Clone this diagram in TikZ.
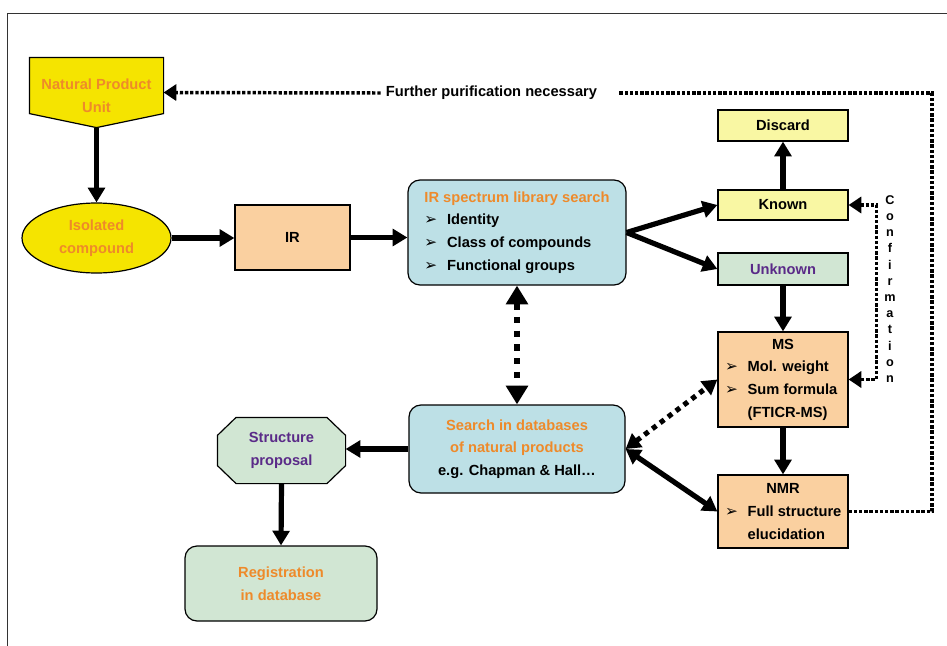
\documentclass[tikz,border=0pt]{standalone}
\usepackage{fontspec}
\setmainfont{Liberation Sans}
\newfontfamily\dingfont{DejaVu Sans}
\usepackage{tikz}
\usetikzlibrary{
    shapes.geometric,
    arrows.meta,
    positioning,
    backgrounds
}
\definecolor{npyellow}{HTML}{F5E400}
\definecolor{paleyellow}{HTML}{F9F7A3}
\definecolor{peach}{HTML}{FAD0A0}
\definecolor{paleblue}{HTML}{BDE0E6}
\definecolor{palegreen}{HTML}{D1E6D3}
\definecolor{orangetext}{HTML}{EE8A2A}
\definecolor{purpletext}{HTML}{5A2A88}

% bullet lines
\newcommand{\bul}{\makebox[17pt][l]{\dingfont\fontsize{11.5}{11}\selectfont ➢}}
\newcommand{\bline}[1]{\makebox[87pt][l]{\bul#1}}
\newcommand{\iline}[1]{\makebox[87pt][l]{\hspace{17pt}#1}}

\tikzset{
    % Base box style
    box/.style={
        rectangle,
        draw=black,
        line width=0.9pt,
        fill=#1,
        inner sep=0pt,
        align=center,
        font=\bfseries\fontsize{11}{17}\selectfont
    },
    % Rounded box style
    roundbox/.style={
        box=#1,
        rounded corners=9pt
    },
    % Outline drawn behind a plain node
    outline/.style={
        draw=black,
        line width=0.9pt,
        fill=#1
    },
    % Arrow styles
    flow/.style={
        -{Triangle[length=11pt, width=12.5pt]},
        line width=3.9pt
    },
    twoflow/.style={
        {Triangle[length=11pt, width=12.5pt]}-{Triangle[length=11pt, width=12.5pt]},
        line width=3.9pt
    },
    bigdots/.style={
        {Triangle[length=14pt, width=16pt]}-{Triangle[length=14pt, width=16pt]},
        line width=4.8pt,
        dash pattern=on 4.8pt off 5.5pt
    },
    middots/.style={
        {Triangle[length=11pt, width=12.5pt]}-{Triangle[length=11pt, width=12.5pt]},
        line width=3.8pt,
        dash pattern=on 3.8pt off 3.6pt
    },
    thindots/.style={
        line width=2.6pt,
        dash pattern=on 2.5pt off 1.4pt
    },
    thintip/.style={
        -{Triangle[length=9.5pt, width=12pt]}
    },
    thintwo/.style={
        {Triangle[length=9.5pt, width=12pt]}-{Triangle[length=9.5pt, width=12pt]}
    }
}

\begin{document}
\begin{tikzpicture}[x=0.75pt, y=-0.75pt]
        \useasboundingbox (0,0) rectangle (947,646);

        % Frame
        \draw[black!80, line width=0.6pt] (7,646) -- (7,13) -- (947,13);

        % Start
        \node[box=none, draw=none, fill=none, minimum width=99.75pt, minimum height=51.75pt, text=orangetext] (npu) at (96.5,92.5) {\rule{0pt}{12.5pt}Natural Product\\Unit};
        \node[box=npyellow, ellipse, minimum width=111.75pt, minimum height=52.5pt, text=orangetext] (iso) at (96.5,238) {Isolated\\compound};

        % IR branch
        \node[box=peach, minimum width=86.25pt, minimum height=48.75pt] (ir) at (292.5,237.5) {IR};
        \node[roundbox=paleblue, minimum width=163.5pt, minimum height=78.75pt, align=left] (irs) at (517,232.5) {\textcolor{orangetext}{IR spectrum library search}\\\bul Identity\\\bul Class of compounds\\\bul Functional groups};

        \node[box=paleyellow, minimum width=97.5pt, minimum height=23.25pt] (discard) at (783,125.5) {Discard};
        \node[box=paleyellow, minimum width=97.5pt, minimum height=22.5pt] (known) at (783,205) {Known};
        \node[box=palegreen, minimum width=97.5pt, minimum height=24pt, text=purpletext] (unknown) at (783,269) {Unknown};

        \node[box=peach, minimum width=97.5pt, minimum height=71.25pt] (ms) at (783,379.5) {MS\\\bline{Mol. weight}\\\bline{Sum formula}\\\iline{(FTICR-MS)}};
        \node[box=peach, minimum width=97.5pt, minimum height=54.75pt] (nmr) at (783,511.5) {NMR\\\bline{Full structure}\\\iline{elucidation}};

        % Database branch
        \node[roundbox=paleblue, minimum width=162pt, minimum height=66pt] (db) at (517,449) {\textcolor{orangetext}{Search in databases}\\\textcolor{orangetext}{of natural products}\\e.g. Chapman \& Hall…};
        \node[box=none, draw=none, fill=none, minimum width=95.25pt, minimum height=48.75pt, text=purpletext] (sp) at (281.5,450.5) {Structure\\proposal};
        \node[roundbox=palegreen, minimum width=144pt, minimum height=56.25pt, text=orangetext] (reg) at (281,583.5) {Registration\\in database};

        % Outlines of the odd shapes
        \begin{scope}[on background layer]
            \draw[outline=npyellow] (npu.north west) -- (npu.north east) -- ([yshift=10.5pt]npu.south east) -- (npu.south) -- ([yshift=10.5pt]npu.south west) -- cycle;
            \draw[outline=palegreen] ([xshift=14pt]sp.north west) -- ([xshift=-14pt]sp.north east) -- ([yshift=-13.5pt]sp.north east) -- ([yshift=13.5pt]sp.south east) -- ([xshift=-14pt]sp.south east) -- ([xshift=14pt]sp.south west) -- ([yshift=13.5pt]sp.south west) -- ([yshift=-13.5pt]sp.north west) -- cycle;
        \end{scope}

        % Labels
        \node[font=\bfseries\fontsize{11}{13}\selectfont, inner sep=0pt] (fp) at (491.5,93) {Further purification necessary};
        \node[font=\bfseries\fontsize{9.5}{12.15}\selectfont, align=center, inner sep=0pt] (conf) at (890,289) {C\\o\\n\\f\\i\\r\\m\\a\\t\\i\\o\\n};

        % Connections
        \draw[flow] (npu.south) -- (iso.north);
        \draw[flow] (iso.east) -- (iso.east -| ir.west);
        \draw[flow] (ir.east) -- (ir.east -| irs.west);
        \draw[flow] (irs.east) -- (known.west);
        \draw[flow] (irs.east) -- (unknown.west);
        \draw[flow] (known.north) -- (discard.south);
        \draw[flow] (unknown.south) -- (ms.north);
        \draw[flow] (ms.south) -- (nmr.north);
        \draw[bigdots] (irs.south) -- (db.north);
        \draw[middots] (db.east) -- (ms.west);
        \draw[twoflow] (db.east) -- (nmr.west);
        \draw[flow] (db.west) -- (db.west -| sp.east);
        \draw[flow] (sp.south) -- (reg.north);

        % Feedback loops
        \coordinate (rc) at (932,93);
        \draw[thindots] (nmr.east) -| (rc) -- ([xshift=16.5pt]fp.east);
        \draw[thindots, thintip] ([xshift=-3.75pt]fp.west) -- (npu.east);
        \draw[thindots, thintwo] (known.east) -- ++(28,0) |- (ms.east);

    \end{tikzpicture}
\end{document}
